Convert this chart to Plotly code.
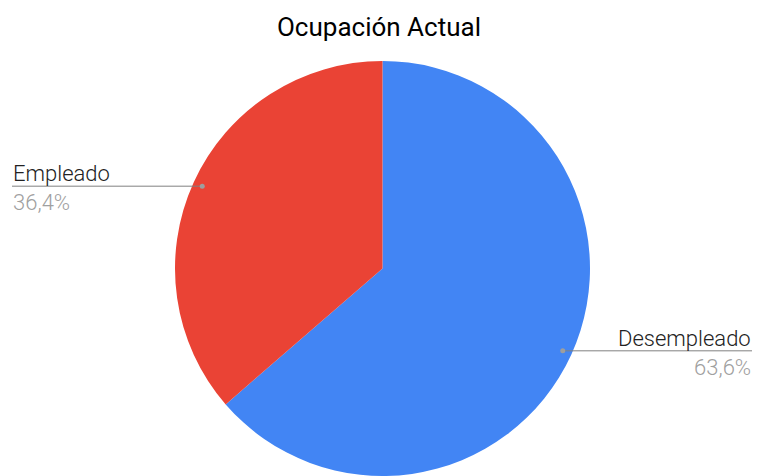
import math
import plotly.graph_objects as go

# ---- data ----
labels = ["Desempleado", "Empleado"]
values = [7, 4]
colors = ["#4285F4", "#EA4335"]
title_text = "Ocupación Actual"

# ---- layout constants (pixels) ----
W, H = 758, 476
CX, CY, R = 382.5, 268.5, 207.5
LEFT_EDGE, RIGHT_EDGE = 12, 752

def px(x):
    return x / W

def py(y):
    return 1 - y / H

fig = go.Figure(go.Pie(
    labels=labels,
    values=values,
    marker=dict(colors=colors, line=dict(width=0)),
    sort=False,
    direction="clockwise",
    rotation=0,
    textinfo="none",
    hoverinfo="label+percent",
    showlegend=False,
    domain=dict(x=[px(CX - R), px(CX + R)], y=[py(CY + R), py(CY - R)]),
))

total = sum(values)
annotations = []
shapes = []
start = 0.0
for lab, v in zip(labels, values):
    frac = v / total
    mid = (start + frac / 2) * 2 * math.pi
    start += frac
    dx = math.sin(mid)
    dy = -math.cos(mid)
    r = 0.955 * R
    dotx = CX + r * dx
    doty = CY + r * dy
    pct = f"{frac*100:.1f}%".replace(".", ",")
    if dx < 0:
        edge = LEFT_EDGE
        anchor = "left"
    else:
        edge = RIGHT_EDGE
        anchor = "right"
    shapes.append(dict(type="line", xref="paper", yref="paper",
                       x0=px(dotx), x1=px(edge), y0=py(doty), y1=py(doty),
                       line=dict(color="#808080", width=1)))
    shapes.append(dict(type="circle", xref="paper", yref="paper",
                       x0=px(dotx - 2.5), x1=px(dotx + 2.5),
                       y0=py(doty + 2.5), y1=py(doty - 2.5),
                       fillcolor="#9e9e9e", line=dict(width=0)))
    annotations.append(dict(text=lab, xref="paper", yref="paper",
                            x=px(edge), y=py(doty), xanchor=anchor, yanchor="bottom",
                            showarrow=False, borderpad=0, yshift=-1,
                            font=dict(family="Roboto", size=22, color="#222222", weight=300)))
    annotations.append(dict(text=pct, xref="paper", yref="paper",
                            x=px(edge), y=py(doty), xanchor=anchor, yanchor="top",
                            showarrow=False, borderpad=0, yshift=-3,
                            font=dict(family="Roboto", size=22, color="#a0a0a0", weight=300)))

fig.update_layout(
    width=W, height=H,
    margin=dict(l=0, r=0, t=0, b=0),
    paper_bgcolor="white",
    plot_bgcolor="white",
    title=dict(text=title_text, x=0.5, xanchor="center", y=py(27), yanchor="middle",
               font=dict(family="Roboto", size=26, color="#000000")),
    annotations=annotations,
    shapes=shapes,
)

fig.write_html("out.html", config={"displayModeBar": False},
               post_script="document.body.style.margin='0';document.body.style.overflow='hidden';")
